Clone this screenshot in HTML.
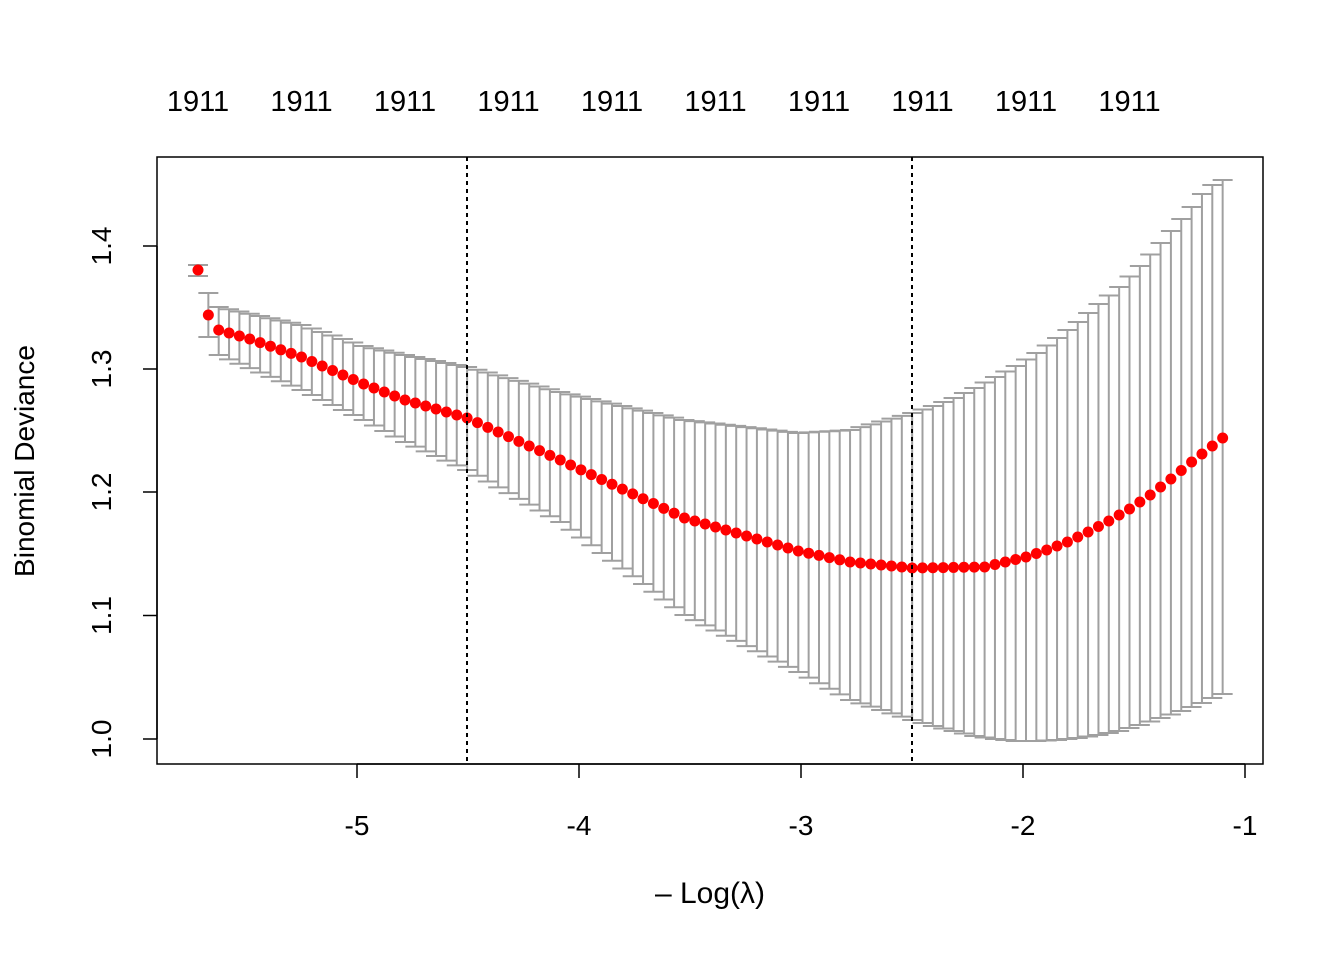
<!DOCTYPE html>
<html><head><meta charset="utf-8"><style>
html,body{margin:0;padding:0;background:#fff;}
svg{display:block;font-family:"Liberation Sans",Arial,sans-serif;}
</style></head><body>
<svg id="s" width="1344" height="960" viewBox="0 0 1344 960" xmlns="http://www.w3.org/2000/svg">
<rect width="1344" height="960" fill="#fff"/>
<g id="bars" stroke="#a0a0a0" stroke-width="2" fill="none"></g>
<g id="dots" fill="#ff0000"></g>
<line x1="467" y1="157" x2="467" y2="764" stroke="#000" stroke-width="2" stroke-dasharray="4,4"/>
<line x1="912" y1="157" x2="912" y2="764" stroke="#000" stroke-width="2" stroke-dasharray="4,4"/>
<rect x="157" y="157" width="1106" height="607" fill="none" stroke="#000" stroke-width="1.5"/>
<g stroke="#000" stroke-width="1.5">
<line x1="357" y1="764" x2="1245" y2="764"/>
<line x1="357" y1="764" x2="357" y2="778"/><line x1="579" y1="764" x2="579" y2="778"/>
<line x1="801" y1="764" x2="801" y2="778"/><line x1="1023" y1="764" x2="1023" y2="778"/>
<line x1="1245" y1="764" x2="1245" y2="778"/>
<line x1="157" y1="246" x2="157" y2="739"/>
<line x1="143" y1="739" x2="157" y2="739"/><line x1="143" y1="615.5" x2="157" y2="615.5"/>
<line x1="143" y1="492" x2="157" y2="492"/><line x1="143" y1="369" x2="157" y2="369"/>
<line x1="143" y1="246" x2="157" y2="246"/>
</g>
<g font-size="28" text-anchor="middle" fill="#000">
<text x="357" y="835">-5</text><text x="579" y="835">-4</text><text x="801" y="835">-3</text>
<text x="1023" y="835">-2</text><text x="1245" y="835">-1</text>
<text transform="translate(111,739) rotate(-90)">1.0</text>
<text transform="translate(111,615.5) rotate(-90)">1.1</text>
<text transform="translate(111,492) rotate(-90)">1.2</text>
<text transform="translate(111,369) rotate(-90)">1.3</text>
<text transform="translate(111,246) rotate(-90)">1.4</text>
<text transform="translate(34,461) rotate(-90)">Binomial Deviance</text>
<text x="710" y="903" font-size="30">– Log(λ)</text>
</g>
<g id="top" font-size="29" text-anchor="middle" fill="#000"></g>
</svg>
<script>
function interp(a,i){for(var k=0;k<a.length-1;k++){var p=a[k],q=a[k+1];if(i>=p[0]&&i<=q[0]){return p[1]+(q[1]-p[1])*(i-p[0])/(q[0]-p[0]);}}return a[a.length-1][1];}
var mean=[[0,270],[1,315],[2,330],[5,339],[10,357],[16,384],[20,400],[26,418],[35,460],[36,465],[47,518],[58,551],[63,562],[69,568],[76,567],[78,562],[80,557],[82,550],[84,542],[86,532],[88,521],[90,509],[92,495],[94,479],[96,462],[98,446],[99,438]];
var up=[[0,265],[1,293],[2,307],[10,325],[16,346],[20,355],[26,367],[35,392],[47,420],[58,433],[63,430],[69,413],[71,406],[73,398],[75,388],[77,377],[79,366],[81,353],[83,338],[85,322],[87,304],[89,287],[91,266],[93,243],[95,219],[96,207],[97,194],[98,185],[99,180]];
var lo=[[0,276],[1,337],[2,355],[10,390],[16,420],[20,442],[26,470],[35,522],[47,615],[58,672],[63,700],[69,720],[71,726],[73,731],[75,736],[77,739],[79,741],[81,741],[83,740],[85,738],[87,735],[89,731],[91,725],[93,718],[95,711],[97,703],[98,698],[99,694]];
var b=document.getElementById('bars'),d=document.getElementById('dots'),h='',g='';
for(var i=0;i<100;i++){var x=198+10.35*i,m=interp(mean,i),u=interp(up,i),l=interp(lo,i);
h+='<line x1="'+x+'" y1="'+u+'" x2="'+x+'" y2="'+l+'"/><line x1="'+(x-10)+'" y1="'+u+'" x2="'+(x+10)+'" y2="'+u+'"/><line x1="'+(x-10)+'" y1="'+l+'" x2="'+(x+10)+'" y2="'+l+'"/>';
g+='<circle cx="'+x+'" cy="'+m+'" r="5.5"/>';}
b.innerHTML=h;d.innerHTML=g;
var t='';for(var j=0;j<10;j++){t+='<text x="'+(198+103.5*j)+'" y="111">1911</text>';}
document.getElementById('top').innerHTML=t;
</script>
</body></html>
